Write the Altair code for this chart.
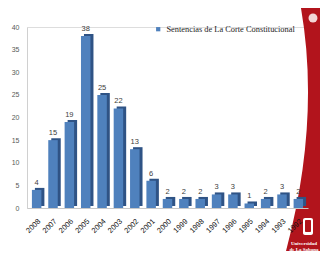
import altair as alt
import pandas as pd

years = ["2008", "2007", "2006", "2005", "2004", "2003", "2002", "2001", "2000",
         "1999", "1998", "1997", "1996", "1995", "1994", "1993", "1992"]
values = [4, 15, 19, 38, 25, 22, 13, 6, 2, 2, 2, 3, 3, 1, 2, 3, 2]
series_name = "Sentencias de La Corte Constitucional"

df = pd.DataFrame({"year": years, "value": values, "serie": [series_name] * len(years)})

W, H = 281, 181
RED = "#B2141C"
FACE = "#4F81BD"
SIDE = "#2F5385"

base = alt.Chart(df)

# decorative red band (background of the slide)
red_path = "M -0.06 -1 L 0.25 -1 L 0.25 1 L -0.2 1 Q 0.11 -0.08 -0.06 -1 Z"
deco = alt.Chart(pd.DataFrame({"d": [0]})).mark_point(
    shape=red_path, filled=True, color=RED, opacity=1, size=69696, strokeWidth=0
).encode(x=alt.value(281), y=alt.value(108))

emblem_top = alt.Chart(pd.DataFrame({"d": [0]})).mark_point(
    shape="circle", filled=True, color="#F3D6D6", opacity=1, size=80, strokeWidth=0
).encode(x=alt.value(286), y=alt.value(-9))

shield = alt.Chart(pd.DataFrame({"d": [0]})).mark_rect(
    color="white", cornerRadius=2
).encode(x=alt.value(276), x2=alt.value(286), y=alt.value(191), y2=alt.value(208))
shield_in = alt.Chart(pd.DataFrame({"d": [0]})).mark_rect(
    color=RED, cornerRadius=1
).encode(x=alt.value(278), x2=alt.value(284), y=alt.value(193), y2=alt.value(205))

logo1 = alt.Chart(pd.DataFrame({"t": ["Universidad"]})).mark_text(
    color="white", font="Liberation Serif", fontSize=5, fontWeight="bold", align="center"
).encode(x=alt.value(277), y=alt.value(216), text="t:N")
logo2 = alt.Chart(pd.DataFrame({"t": ["de La Sabana"]})).mark_text(
    color="white", font="Liberation Serif", fontSize=5, fontWeight="bold", align="center"
).encode(x=alt.value(277), y=alt.value(222), text="t:N")

xenc = alt.X("year:N", sort=years,
             scale=alt.Scale(paddingInner=0.42, paddingOuter=0.3),
             axis=alt.Axis(title=None, labelAngle=-45, labelFontSize=7.5,
                           labelFont="Liberation Sans", labelColor="#111111",
                           ticks=False, labelPadding=9, domainColor="#C8C8C8",
                           domainWidth=1, grid=False, zindex=1))
yenc = alt.Y("value:Q", scale=alt.Scale(domain=[0, 40]),
             axis=alt.Axis(title=None, values=[0, 5, 10, 15, 20, 25, 30, 35, 40],
                           labelFontSize=7, labelFont="Liberation Sans",
                           labelColor="#595959", ticks=False, labelPadding=8,
                           domainColor="#D0D0D0", grid=False))

side = base.mark_bar(color=SIDE, xOffset=3, yOffset=-2).encode(x=xenc, y=yenc)
face = base.mark_bar().encode(
    x=xenc, y=yenc,
    color=alt.Color("serie:N", scale=alt.Scale(range=[FACE]),
                    legend=alt.Legend(title=None, orient="none", legendX=127, legendY=-2,
                                      labelFont="Liberation Serif", labelFontSize=8.4,
                                      labelColor="#222222", symbolType="square",
                                      symbolSize=18, symbolStrokeWidth=0))
)
labels = base.mark_text(dy=-7, fontSize=7.5, font="Liberation Sans", color="#404040").encode(
    x=xenc, y=yenc, text="value:Q")

chart = alt.layer(deco, emblem_top, shield, shield_in, logo1, logo2, side, face, labels).properties(
    width=W, height=H,
    autosize=alt.AutoSizeParams(type="none"),
    padding={"left": 19, "top": 19, "right": 12, "bottom": 43},
).configure_view(stroke=None).configure(background="white")

chart.save("out.html", embed_options={"renderer": "svg", "actions": False})
